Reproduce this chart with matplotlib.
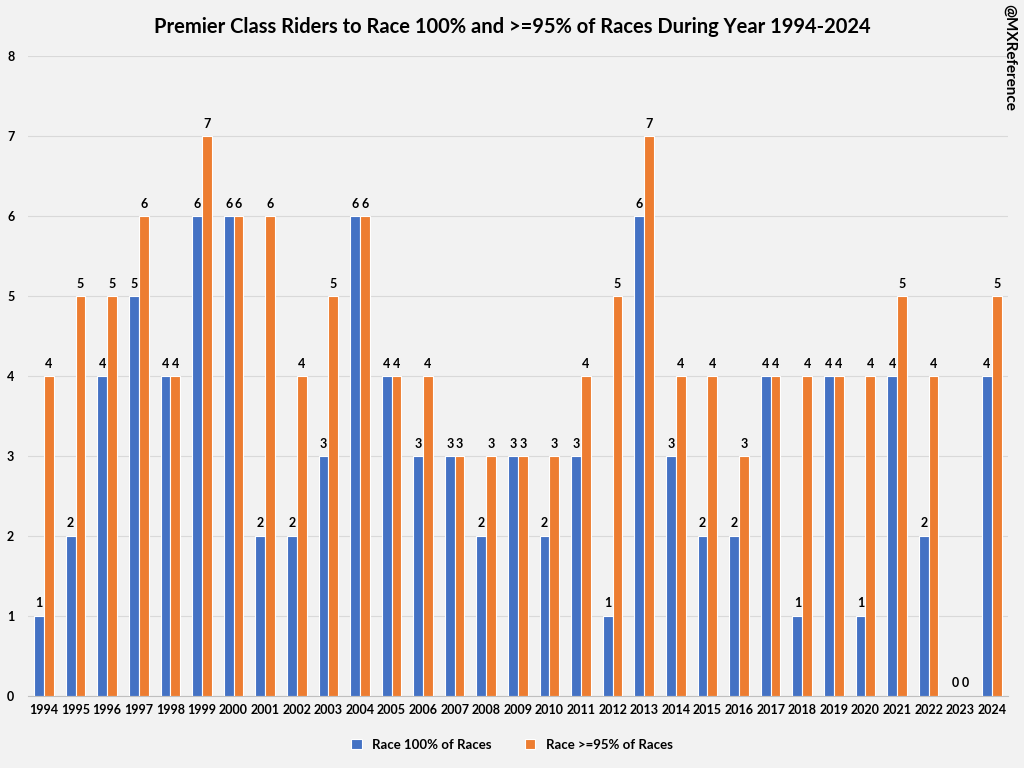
import numpy as np
import matplotlib
matplotlib.use('Agg')
import matplotlib.pyplot as plt

years = [str(y) for y in range(1994, 2025)]
race_100 = [1, 2, 4, 5, 4, 6, 6, 2, 2, 3, 6, 4, 3, 3, 2, 3, 2, 3, 1, 6, 3, 2, 2, 4, 1, 4, 1, 4, 2, 0, 4]
race_95 = [4, 5, 5, 6, 4, 7, 6, 6, 4, 5, 6, 4, 4, 3, 3, 3, 3, 4, 5, 7, 4, 4, 3, 4, 4, 4, 4, 5, 4, 0, 5]

plt.rcParams['font.family'] = ['Lato', 'DejaVu Sans']
plt.rcParams['font.weight'] = 'bold'

fig = plt.figure(figsize=(10.24, 7.68), dpi=100)
fig.patch.set_facecolor('#f2f2f2')
ax = fig.add_axes([0.0275, 0.094, 0.9565, 0.833])
ax.set_facecolor('#f2f2f2')

x = np.arange(len(years))
w = 0.31
b1 = ax.bar(x - w / 2, race_100, w, color='#4472C4', edgecolor='white', linewidth=0.8,
            label='Race 100% of Races', zorder=3)
b2 = ax.bar(x + w / 2, race_95, w, color='#ED7D31', edgecolor='white', linewidth=0.8,
            label='Race >=95% of Races', zorder=3)

for bars in (b1, b2):
    for r in bars:
        ax.text(r.get_x() + r.get_width() / 2, r.get_height() + 0.08, str(int(r.get_height())),
                ha='center', va='bottom', fontsize=9, fontweight='bold', color='black')

ax.set_xlim(-0.5, len(years) - 0.5)
ax.set_ylim(0, 8)
ax.set_yticks(range(0, 9))
ax.set_xticks(x)
ax.set_xticklabels(years)
ax.tick_params(axis='both', length=0, labelsize=9)
ax.tick_params(axis='x', pad=6)
ax.tick_params(axis='y', pad=10)
ax.grid(axis='y', color='#d9d9d9', linewidth=0.8, zorder=0)
for s in ['top', 'right', 'left']:
    ax.spines[s].set_visible(False)
ax.spines['bottom'].set_color('#bfbfbf')

fig.text(0.5, 0.965, 'Premier Class Riders to Race 100% and >=95% of Races During Year 1994-2024',
         ha='center', va='center', fontsize=14.5, fontweight='bold')
fig.text(0.986, 0.995, '@MXReference', rotation=270, ha='center', va='top',
         fontsize=11, fontweight='bold')

fig.legend(handles=[b1, b2], loc='center', bbox_to_anchor=(0.5, 0.03), ncol=2,
           frameon=False, fontsize=9.5, handlelength=0.8, handleheight=0.8, columnspacing=2.5)

fig.savefig('out.png', dpi=100, facecolor=fig.get_facecolor())
